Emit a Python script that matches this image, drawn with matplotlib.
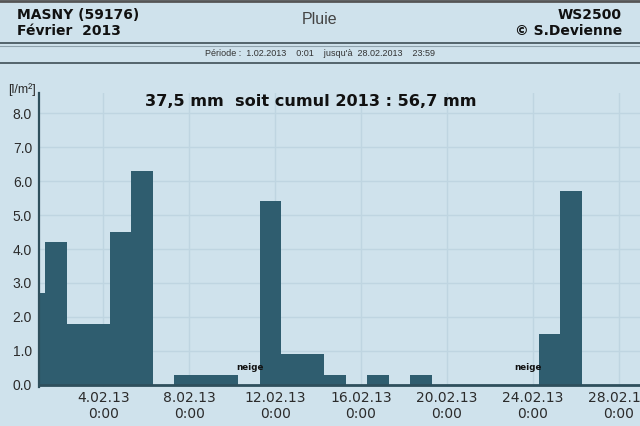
import matplotlib.pyplot as plt

# daily rain totals (l/m2), each day runs 7:00 -> 7:00, first bar starts 31.01 7:00
day_start = [-0.71, 0.29, 1.29, 2.29, 3.29, 4.29, 5.29, 6.29, 7.29, 8.29,
             9.29, 10.29, 11.29, 12.29, 13.29, 14.29, 15.29, 16.29, 17.29, 18.29,
             19.29, 20.29, 21.29, 22.29, 23.29, 24.29, 25.29, 26.29, 27.29]
rain = [2.7, 4.2, 1.8, 1.8, 4.5, 6.3, 0.0, 0.3, 0.3, 0.3,
        0.0, 5.4, 0.9, 0.9, 0.3, 0.0, 0.3, 0.0, 0.3, 0.0,
        0.0, 0.0, 0.0, 0.0, 1.5, 5.7, 0.0, 0.0, 0.0]
tick_days = [3, 7, 11, 15, 19, 23, 27]
tick_labels = ["4.02.13\n0:00", "8.02.13\n0:00", "12.02.13\n0:00", "16.02.13\n0:00",
               "20.02.13\n0:00", "24.02.13\n0:00", "28.02.13\n0:00"]
snow_days = [9.83, 22.8]

bg = "#cfe2ec"
bar_col = "#2f5d6f"
txt = "#2b2b2b"

fig = plt.figure(figsize=(6.4, 4.26), dpi=100, facecolor=bg)
W, H = 640, 426

# header
fig.text(17 / W, 1 - 15 / H, "MASNY (59176)", fontsize=10, fontweight="bold", color="#111", va="center")
fig.text(17 / W, 1 - 31 / H, "Février  2013", fontsize=10, fontweight="bold", color="#111", va="center")
fig.text(320 / W, 1 - 20 / H, "Pluie", fontsize=11.5, color="#444", ha="center", va="center",
         family="Liberation Sans")
fig.text(622 / W, 1 - 15 / H, "WS2500", fontsize=10, fontweight="bold", color="#111", ha="right", va="center")
fig.text(622 / W, 1 - 31 / H, "© S.Devienne", fontsize=10, fontweight="bold", color="#111", ha="right", va="center")
fig.text(320 / W, 1 - 54 / H, "Période :  1.02.2013    0:01    jusqu'à  28.02.2013    23:59",
         fontsize=6.5, color="#333", ha="center", va="center", family="Liberation Sans")
for y, c, lw in [(1, "#555", 2), (43, "#4a5a62", 1.3), (46, "#8fa3ad", 0.8), (63, "#4a5a62", 1.3)]:
    fig.add_artist(plt.Line2D([0, 1], [1 - y / H, 1 - y / H], color=c, lw=lw,
                              transform=fig.transFigure))

ax = fig.add_axes([39 / W, (H - 387) / H, 601 / W, 294 / H])
ax.set_facecolor(bg)
ax.bar(day_start, rain, width=1.0, align="edge", color=bar_col, zorder=2)
ax.set_xlim(0, 28)
ax.set_ylim(-0.06, 8.59)

ax.set_yticks([0, 1, 2, 3, 4, 5, 6, 7, 8])
ax.set_yticklabels([f"{v:.1f}" for v in range(9)])
ax.set_xticks(tick_days)
ax.set_xticklabels(tick_labels)
ax.tick_params(axis="x", length=0, labelsize=10, labelcolor=txt, pad=4)
ax.tick_params(axis="y", length=0, labelsize=10, labelcolor=txt, pad=5)
for lab in ax.get_xticklabels() + ax.get_yticklabels():
    lab.set_family("Liberation Sans")
ax.grid(True, color="#bfd5e1", lw=1, zorder=0)
ax.set_axisbelow(True)

for s in ["top", "right"]:
    ax.spines[s].set_visible(False)
ax.spines["left"].set_color("#2e4f5c")
ax.spines["left"].set_linewidth(1.6)
ax.spines["bottom"].set_color("#2e4f5c")
ax.spines["bottom"].set_linewidth(2)
ax.spines["bottom"].set_position(("data", 0))

ax.text(-0.15, 8.68, "[l/m²]", fontsize=9, color=txt, ha="right", va="center", family="Liberation Sans")
ax.text(12.65, 8.33, "37,5 mm  soit cumul 2013 : 56,7 mm", fontsize=11.6, fontweight="bold",
        color="#111", ha="center", va="center")
for d in snow_days:
    ax.text(d, 0.5, "neige", fontsize=6.3, fontweight="bold", color="#111", ha="center", va="center")

fig.savefig("out.png", dpi=100, facecolor=bg)
